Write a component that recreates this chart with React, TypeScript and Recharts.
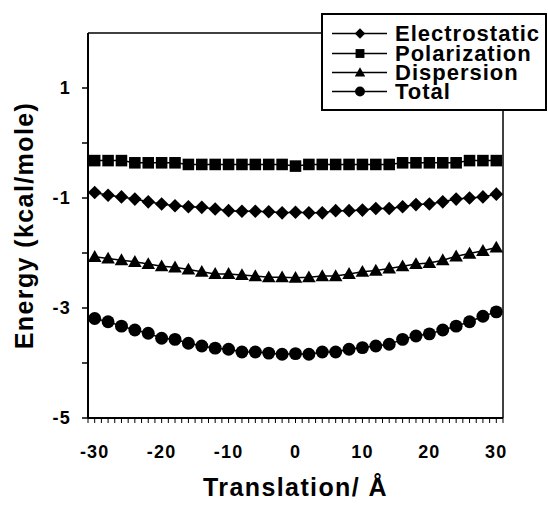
import React from "react";
import { LineChart, Line, XAxis, YAxis, ReferenceLine, Label } from "recharts";

// translation (Å)
const translation = [
  -30, -28, -26, -24, -22, -20, -18, -16, -14, -12, -10, -8, -6, -4, -2, 0,
  2, 4, 6, 8, 10, 12, 14, 16, 18, 20, 22, 24, 26, 28, 30,
];

// energies (kcal/mole)
const electrostatic = [
  -0.9, -0.95, -0.98, -1.02, -1.07, -1.11, -1.14, -1.16, -1.17, -1.2, -1.23, -1.24, -1.24, -1.25, -1.27, -1.26,
  -1.27, -1.27, -1.23, -1.23, -1.22, -1.19, -1.19, -1.16, -1.12, -1.11, -1.07, -1.02, -1.0, -0.98, -0.93,
];
const polarization = [
  -0.32, -0.32, -0.32, -0.36, -0.36, -0.36, -0.36, -0.39, -0.39, -0.39, -0.39, -0.39, -0.39, -0.39, -0.39, -0.42,
  -0.39, -0.39, -0.39, -0.39, -0.39, -0.39, -0.39, -0.36, -0.36, -0.36, -0.36, -0.36, -0.32, -0.32, -0.32,
];
const dispersion = [
  -2.07, -2.1, -2.13, -2.16, -2.2, -2.24, -2.26, -2.3, -2.34, -2.38, -2.38, -2.4, -2.42, -2.44, -2.44, -2.45,
  -2.44, -2.42, -2.42, -2.38, -2.34, -2.32, -2.28, -2.24, -2.2, -2.18, -2.13, -2.06, -2.01, -1.96, -1.9,
];
const total = [
  -3.19, -3.25, -3.33, -3.4, -3.46, -3.55, -3.57, -3.64, -3.69, -3.73, -3.75, -3.8, -3.8, -3.82, -3.84, -3.83,
  -3.84, -3.8, -3.8, -3.75, -3.72, -3.69, -3.66, -3.57, -3.51, -3.47, -3.4, -3.33, -3.25, -3.15, -3.07,
];

const xLabelTicks = [-30, -20, -10, 0, 10, 20, 30];
const yTicks = [-5, -4, -3, -2, -1, 0, 1];
const yLabelTicks = [-5, -3, -1, 1];

const series = [
  { key: "electrostatic", name: "Electrostatic", shape: "diamond" },
  { key: "polarization", name: "Polarization", shape: "square" },
  { key: "dispersion", name: "Dispersion", shape: "triangle" },
  { key: "total", name: "Total", shape: "circle" },
];

const data = translation.map((x, i) => ({
  x,
  electrostatic: electrostatic[i],
  polarization: polarization[i],
  dispersion: dispersion[i],
  total: total[i],
}));

const minorTicks: number[] = [];
for (let t = -31; t <= 31; t++) minorTicks.push(t);

const FONT = '"Liberation Sans", Arial, sans-serif';

function Marker({ shape, cx, cy, r }: { shape: string; cx: number; cy: number; r: number }) {
  if (shape === "diamond") {
    return <polygon points={`${cx},${cy - r} ${cx + r},${cy} ${cx},${cy + r} ${cx - r},${cy}`} fill="#000" />;
  }
  if (shape === "square") {
    const h = r * 0.85;
    return <rect x={cx - h} y={cy - h} width={h * 2} height={h * 2} fill="#000" />;
  }
  if (shape === "triangle") {
    return <polygon points={`${cx},${cy - r} ${cx + r},${cy + r * 0.75} ${cx - r},${cy + r * 0.75}`} fill="#000" />;
  }
  return <circle cx={cx} cy={cy} r={r * 0.95} fill="#000" />;
}

const XTick = (props: any) => {
  const { x, y, payload } = props;
  if (!xLabelTicks.includes(payload.value)) return <g />;
  return (
    <text x={x} y={y} dy="0.71em" textAnchor="middle" fontSize={18} fontWeight="bold" fill="#000"
      style={{ letterSpacing: 1.2 }} fontFamily={FONT}>
      {payload.value}
    </text>
  );
};

const YTick = (props: any) => {
  const { x, y, payload } = props;
  if (!yLabelTicks.includes(payload.value)) return <g />;
  return (
    <text x={x} y={y} dy="0.36em" textAnchor="end" fontSize={18} fontWeight="bold" fill="#000"
      style={{ letterSpacing: 1.2 }} fontFamily={FONT}>
      {payload.value}
    </text>
  );
};

export default function App() {
  return (
    <div style={{ position: "absolute", left: 0, top: 0, width: 548, height: 508, background: "#fff", fontFamily: FONT }}>
      <LineChart width={548} height={508} data={data} margin={{ top: 33, right: 45, left: 0, bottom: 0 }}>
        <XAxis
          dataKey="x"
          type="number"
          domain={[-31, 31]}
          ticks={minorTicks}
          interval={0}
          tick={<XTick />}
          tickSize={5}
          tickMargin={22}
          height={90}
          axisLine={{ stroke: "#000", strokeWidth: 2 }}
          tickLine={{ stroke: "#000", strokeWidth: 1 }}
        >
          <Label
            value="Translation/ Å"
            position="insideBottom"
            offset={12}
            style={{ fontSize: 25, fontWeight: "bold", fill: "#000", letterSpacing: 1.4, fontFamily: FONT }}
          />
        </XAxis>
        <YAxis
          type="number"
          domain={[-5, 2]}
          ticks={yTicks}
          interval={0}
          tick={<YTick />}
          tickSize={6}
          tickMargin={11}
          width={88}
          axisLine={{ stroke: "#000", strokeWidth: 2 }}
          tickLine={{ stroke: "#000", strokeWidth: 1.5 }}
        >
          <Label
            value="Energy (kcal/mole)"
            angle={-90}
            position="insideLeft"
            offset={24}
            style={{ fontSize: 25, fontWeight: "bold", fill: "#000", letterSpacing: 1.4, textAnchor: "middle", fontFamily: FONT }}
          />
        </YAxis>
        <ReferenceLine y={2} stroke="#000" strokeWidth={1.5} />
        <ReferenceLine x={31} stroke="#000" strokeWidth={1.5} />
        {series.map((s) => (
          <Line
            key={s.key}
            dataKey={s.key}
            name={s.name}
            stroke="#000"
            strokeWidth={1.5}
            isAnimationActive={false}
            dot={(p: any) => <Marker key={`${s.key}-${p.index}`} shape={s.shape} cx={p.cx} cy={p.cy} r={6.8} />}
            activeDot={false}
          />
        ))}
      </LineChart>
      <div
        style={{
          position: "absolute",
          left: 321,
          top: 13,
          width: 226,
          height: 98,
          boxSizing: "border-box",
          border: "2px solid #000",
          background: "#fff",
          paddingTop: 9,
        }}
      >
        {series.map((s) => (
          <div key={s.key} style={{ display: "flex", alignItems: "center", height: 19.4, overflow: "visible" }}>
            <svg width={72} height={19} style={{ flex: "none" }}>
              <line x1={9} y1={9.5} x2={64} y2={9.5} stroke="#000" strokeWidth={1.5} />
              <Marker shape={s.shape} cx={37} cy={9.5} r={5.2} />
            </svg>
            <div style={{ fontSize: 22, fontWeight: "bold", letterSpacing: 1.0, lineHeight: "19px", height: 19, whiteSpace: "nowrap" }}>
              {s.name}
            </div>
          </div>
        ))}
      </div>
    </div>
  );
}
